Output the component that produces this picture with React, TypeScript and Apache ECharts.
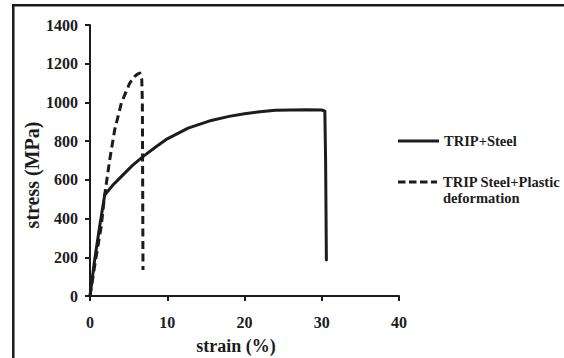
import React, { useEffect, useRef } from "react";
import * as echarts from "echarts";

const xTicks = [0, 10, 20, 30, 40];
const yTicks = [0, 200, 400, 600, 800, 1000, 1200, 1400];

const seriesNames = ["TRIP+Steel", "TRIP Steel+Plastic\ndeformation"];

const solidStrain = [0, 0.6, 1.25, 1.9, 3.0, 4.05, 5.5, 6.9, 8.5, 10, 12.7, 15.7, 18, 20, 22, 24, 26, 28, 30, 30.4, 30.5, 30.6];
const solidStress = [0, 186, 359, 522, 575, 617, 675, 721, 770, 812, 867, 907, 928, 941, 952, 959, 961, 962, 961, 955, 700, 186];

const dashStrain = [0, 0.7, 1.45, 1.9, 2.55, 3.2, 4.06, 5.14, 5.8, 6.22, 6.45, 6.7, 6.78, 6.86];
const dashStress = [0, 180, 359, 522, 703, 859, 997, 1100, 1135, 1148, 1152, 1120, 1000, 134];

const FONT = "'Liberation Serif', 'Times New Roman', serif";
const INK = "#1c1c1c";

export default function App() {
  const ref = useRef<HTMLDivElement>(null);
  useEffect(() => {
    document.body.style.margin = "0";
    const chart = echarts.init(ref.current!, null, { renderer: "svg" });
    const solid = solidStrain.map((x, i) => [x, solidStress[i]]);
    const dashed = dashStrain.map((x, i) => [x, dashStress[i]]);
    chart.setOption({
      animation: false,
      backgroundColor: "#ffffff",
      grid: { left: 90, right: 165, top: 25, bottom: 62, containLabel: false },
      xAxis: {
        type: "value",
        min: xTicks[0],
        max: xTicks[xTicks.length - 1],
        interval: 10,
        splitLine: { show: false },
        axisLine: { lineStyle: { color: INK, width: 2 } },
        axisTick: { show: true, length: 5, lineStyle: { color: INK, width: 2 } },
        axisLabel: { margin: 18, color: INK, fontFamily: FONT, fontWeight: "bold", fontSize: 16, formatter: (v: number) => String(v) },
      },
      yAxis: {
        type: "value",
        min: yTicks[0],
        max: yTicks[yTicks.length - 1],
        interval: 200,
        splitLine: { show: false },
        axisLine: { show: true, lineStyle: { color: INK, width: 2 } },
        axisTick: { show: true, length: 5, lineStyle: { color: INK, width: 2 } },
        axisLabel: { margin: 12, color: INK, fontFamily: FONT, fontWeight: "bold", fontSize: 16, formatter: (v: number) => String(v) },
      },
      series: [
        {
          name: seriesNames[0],
          type: "line",
          data: solid,
          showSymbol: false,
          symbol: "none",
          lineStyle: { color: INK, width: 3, join: "round", cap: "round" },
        },
        {
          name: seriesNames[1],
          type: "line",
          data: dashed,
          showSymbol: false,
          symbol: "none",
          lineStyle: { color: INK, width: 3, type: [8, 4.5], join: "round" },
        },
      ],
      graphic: [
        { type: "line", shape: { x1: 13.3, y1: 4, x2: 13.3, y2: 358 }, style: { stroke: "#1a1a1a", lineWidth: 2.5 } },
        { type: "line", shape: { x1: 12, y1: 5.3, x2: 564, y2: 5.3 }, style: { stroke: "#1a1a1a", lineWidth: 2.5 } },
        { type: "line", shape: { x1: 398, y1: 141, x2: 439, y2: 141 }, style: { stroke: INK, lineWidth: 3 } },
        {
          type: "text", x: 444, y: 141,
          style: { text: seriesNames[0], fill: INK, font: `bold 14.5px ${FONT}`, verticalAlign: "middle", align: "left" },
        },
        { type: "line", shape: { x1: 398, y1: 182, x2: 437, y2: 182 }, style: { stroke: INK, lineWidth: 3, lineDash: [7.5, 3.5] } },
        {
          type: "text", x: 443, y: 174,
          style: { text: seriesNames[1], fill: INK, font: `bold 14.5px ${FONT}`, lineHeight: 16, verticalAlign: "top", align: "left" },
        },
        {
          type: "text", x: 236, y: 346,
          style: { text: "strain (%)", fill: INK, font: `bold 18px ${FONT}`, verticalAlign: "middle", align: "center" },
        },
        {
          type: "text", x: 32, y: 175, rotation: Math.PI / 2,
          style: { text: "stress (MPa)", fill: INK, font: `bold 20px ${FONT}`, verticalAlign: "middle", align: "center" },
        },
      ],
    });
    return () => chart.dispose();
  }, []);
  return <div ref={ref} style={{ width: 564, height: 358 }} />;
}
